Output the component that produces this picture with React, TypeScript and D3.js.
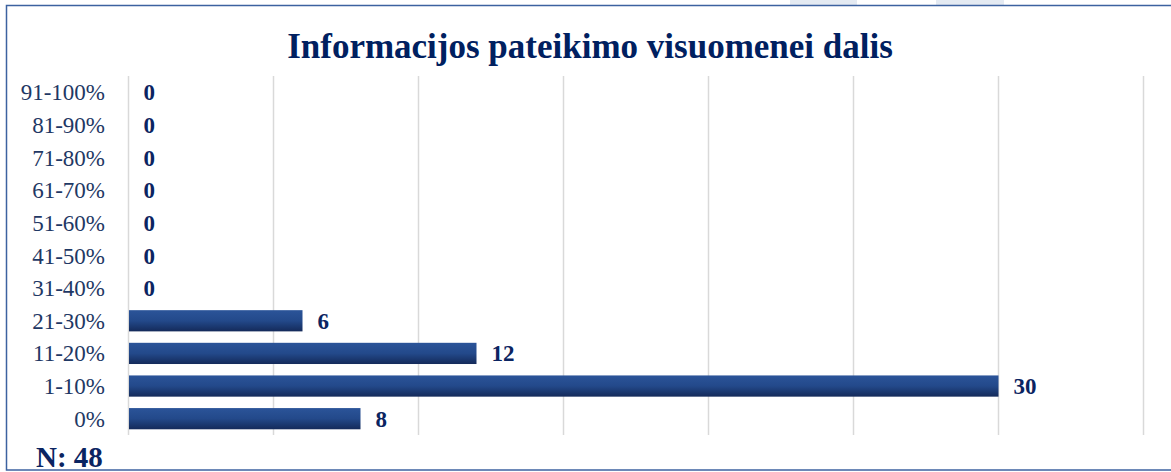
import React from "react";
import * as d3 from "d3";

const categories = ["91-100%", "81-90%", "71-80%", "61-70%", "51-60%", "41-50%", "31-40%", "21-30%", "11-20%", "1-10%", "0%"];
const values = [0, 0, 0, 0, 0, 0, 0, 6, 12, 30, 8];
const xTicks = [0, 5, 10, 15, 20, 25, 30, 35];
const title = "Informacijos pateikimo visuomenei dalis";
const footnote = "N: 48";

const W = 1171;
const H = 472;
const FONT = "'Liberation Serif', 'Times New Roman', serif";
const NAVY = "#0b2461";

export default function App() {
  const x = d3.scaleLinear().domain([0, 35]).range([128.5, 1143.5]);
  const y = d3.scaleBand<string>().domain(categories).range([76, 435]).paddingInner(0.35).paddingOuter(0.175);

  return (
    <svg width={W} height={H} style={{ position: "absolute", left: 0, top: 0, background: "#fff" }}>
      <defs>
        <linearGradient id="barGrad" x1="0" y1="0" x2="0" y2="1">
          <stop offset="0" stopColor="#2b5499" />
          <stop offset="0.5" stopColor="#23498a" />
          <stop offset="1" stopColor="#142a5a" />
        </linearGradient>
      </defs>
      {/* page strips above the chart frame */}
      <rect x={790} y={0} width={67} height={5} fill="#e4eaf2" />
      <rect x={936} y={0} width={68} height={5} fill="#e4eaf2" />
      {/* chart frame */}
      <rect x={6.5} y={5.5} width={1180} height={464.5} fill="none" stroke="#3c62a0" strokeWidth={1.5} />
      <text x={590} y={58} textAnchor="middle" fontFamily={FONT} fontWeight="bold" fontSize={35} fill="#002060">
        {title}
      </text>
      {/* vertical gridlines */}
      {xTicks.map((t) => (
        <line key={t} x1={x(t)} x2={x(t)} y1={76} y2={435} stroke="#d9d9d9" strokeWidth={1.5} />
      ))}
      {categories.map((c, i) => {
        const yy = y(c)!;
        const bh = y.bandwidth();
        const cy = yy + bh / 2;
        return (
          <g key={c}>
            <text x={105} y={cy} dy="0.35em" textAnchor="end" fontFamily={FONT} fontSize={23} fill="#1f3864">
              {c}
            </text>
            {values[i] > 0 && (
              <rect x={x(0) + 0.5} y={yy} width={x(values[i]) - x(0) - 0.5} height={bh} fill="url(#barGrad)" />
            )}
            <text x={x(values[i]) + 15} y={cy} dy="0.35em" fontFamily={FONT} fontWeight="bold" fontSize={23} fill={NAVY}>
              {values[i]}
            </text>
          </g>
        );
      })}
      <text x={36} y={467} fontFamily={FONT} fontWeight="bold" fontSize={29} fill={NAVY}>
        {footnote}
      </text>
    </svg>
  );
}
